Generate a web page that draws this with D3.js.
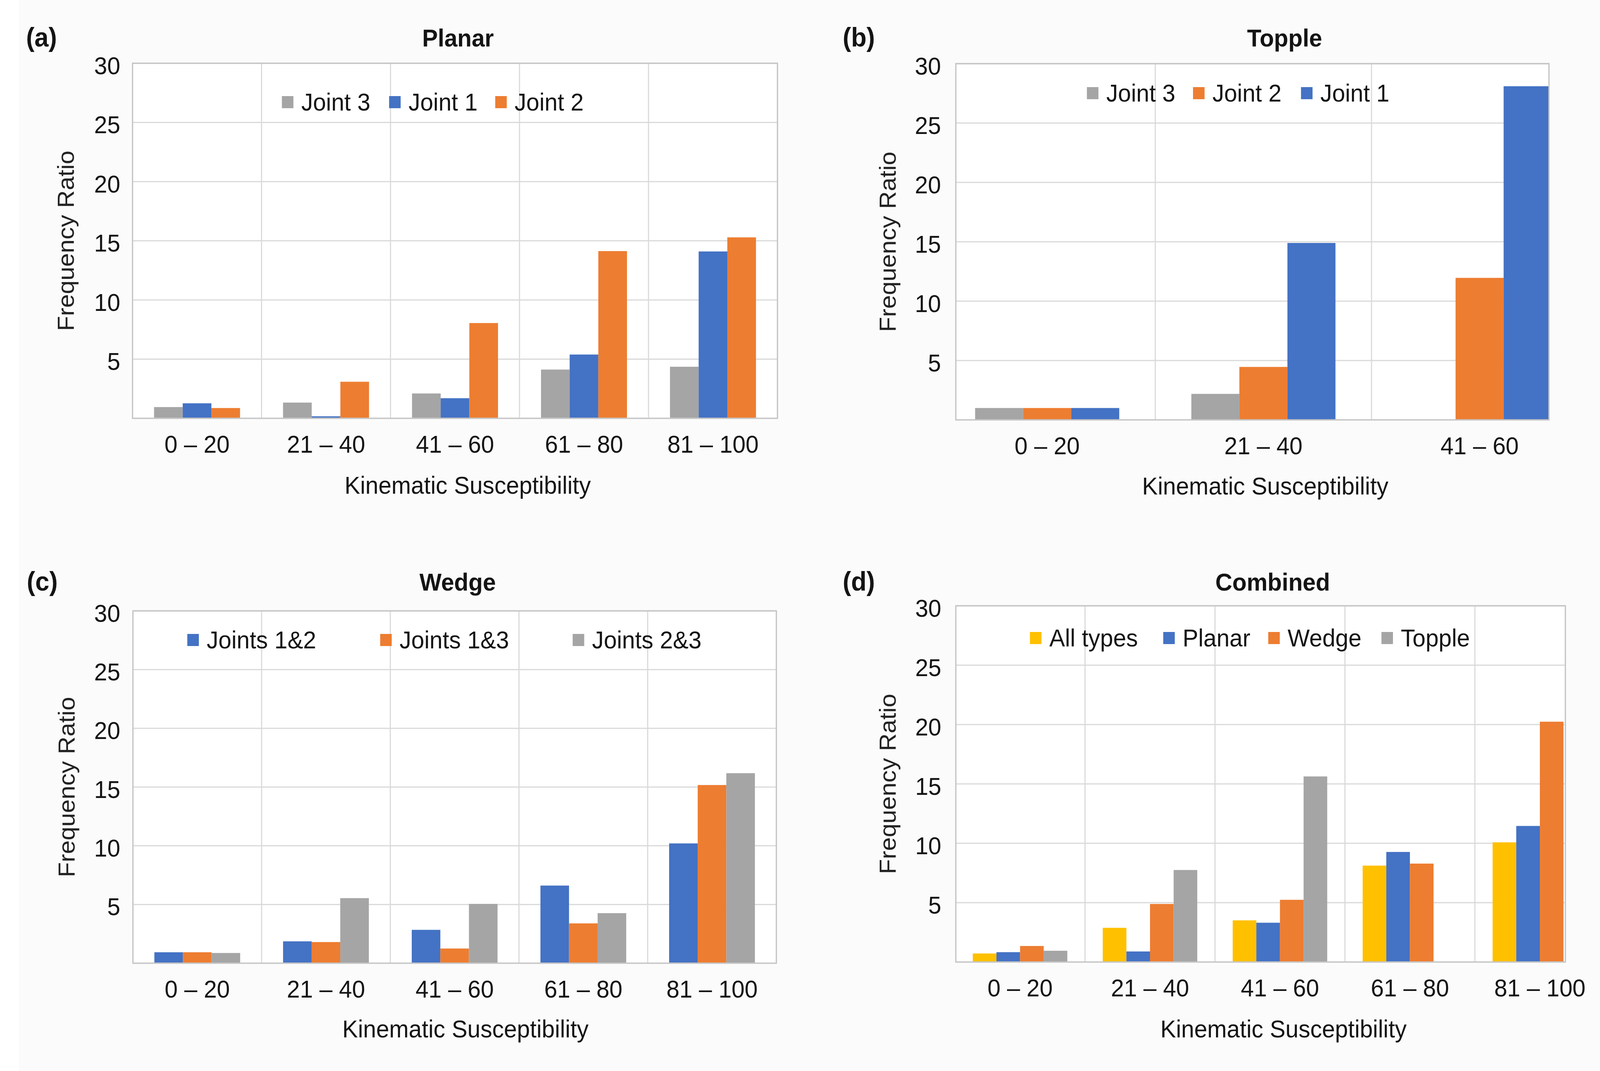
<!DOCTYPE html>
<html>
<head>
<meta charset="utf-8">
<script src="https://cdn.jsdelivr.net/npm/d3@7/dist/d3.min.js"></script>
<style>
  html, body { margin: 0; padding: 0; background: #ffffff; overflow: hidden; }
  #figure svg { display: block; width: 100vw; height: 100vh; }
  svg text { font-family: "Liberation Sans", Arial, sans-serif; fill: #141414; }
</style>
</head>
<body>
<div id="figure"></div>
<script>

// Kinematic susceptibility classes (x axis)
var ksBins = ["0 – 20", "21 – 40", "41 – 60", "61 – 80", "81 – 100"];
var ksBinsTopple = ["0 – 20", "21 – 40", "41 – 60"];

// y axis tick labels (no 0 label in the original)
var yTicks = [5, 10, 15, 20, 25, 30];

// (a) Planar
var planarSeries = ["Joint 3", "Joint 1", "Joint 2"];
var planarJoint3 = [0.95, 1.33, 2.1, 4.12, 4.36];
var planarJoint1 = [1.27, 0.17, 1.7, 5.39, 14.1];
var planarJoint2 = [0.87, 3.09, 8.05, 14.13, 15.29];

// (b) Topple
var toppleSeries = ["Joint 3", "Joint 2", "Joint 1"];
var toppleJoint3 = [1.0, 2.19, null];
var toppleJoint2 = [1.0, 4.46, 11.96];
var toppleJoint1 = [1.0, 14.9, 28.1];

// (c) Wedge
var wedgeSeries = ["Joints 1&2", "Joints 1&3", "Joints 2&3"];
var wedgeJ12 = [0.93, 1.86, 2.84, 6.61, 10.2];
var wedgeJ13 = [0.93, 1.8, 1.25, 3.39, 15.17];
var wedgeJ23 = [0.87, 5.54, 5.05, 4.26, 16.18];

// (d) Combined
var combinedSeries = ["All types", "Planar", "Wedge", "Topple"];
var combinedAll = [0.72, 2.88, 3.51, 8.12, 10.08];
var combinedPlanar = [0.83, 0.89, 3.31, 9.27, 11.46];
var combinedWedge = [1.35, 4.89, 5.24, 8.29, 20.24];
var combinedTopple = [0.95, 7.75, 15.63, null, null];

var colors = {
  blue: "#4472C4",
  orange: "#ED7D31",
  gray: "#A5A5A5",
  yellow: "#FFC000"
};

var svgWidth = 4297;
var svgHeight = 2742;

// drawn in a fixed 4297x2742 coordinate space, scaled to the window
var svg = d3.select("#figure")
  .append("svg")
  .attr("viewBox", `0 0 ${svgWidth} ${svgHeight}`)
  .attr("preserveAspectRatio", "none");

// faint off-white page like the scan
svg.append("rect")
  .attr("x", 0).attr("y", 0)
  .attr("width", svgWidth).attr("height", svgHeight)
  .attr("fill", "#ffffff");
svg.append("rect")
  .attr("x", 50).attr("y", 0)
  .attr("width", svgWidth - 50).attr("height", svgHeight)
  .attr("fill", "#fbfbfb");

// panel definitions: data come from the arrays above, layout lives here
var panels = [
  {
    id: "a", letter: "(a)", title: "Planar",
    cats: ksBins, series: planarSeries,
    values: [planarJoint3, planarJoint1, planarJoint2],
    colors: [colors.gray, colors.blue, colors.orange],
    left: 356, right: 2088, top: 162, bottom: 1071, band: [356, 2088],
    tickGap: 33, letterX: 70, base: 119, titleX: 1230,
    yTitleX: 198, xTitleX: 1256, xTitleY: 1264,
    legendY: 261, legendX: [757, 1045, 1330]
  },
  {
    id: "b", letter: "(b)", title: "Topple",
    cats: ksBinsTopple, series: toppleSeries,
    values: [toppleJoint3, toppleJoint2, toppleJoint1],
    colors: [colors.gray, colors.orange, colors.blue],
    left: 2567, right: 4160, top: 163, bottom: 1075, band: [2522, 4264],
    tickGap: 40, letterX: 2263, base: 119, titleX: 3450,
    yTitleX: 2405, xTitleX: 3398, xTitleY: 1266,
    legendY: 238, legendX: [2919, 3204, 3494]
  },
  {
    id: "c", letter: "(c)", title: "Wedge",
    cats: ksBins, series: wedgeSeries,
    values: [wedgeJ12, wedgeJ13, wedgeJ23],
    colors: [colors.blue, colors.orange, colors.gray],
    left: 357, right: 2085, top: 1564, bottom: 2466, band: [357, 2085],
    tickGap: 34, letterX: 72, base: 1512, titleX: 1229,
    yTitleX: 200, xTitleX: 1250, xTitleY: 2656,
    legendY: 1638, legendX: [503, 1021, 1538]
  },
  {
    id: "d", letter: "(d)", title: "Combined",
    cats: ksBins, series: combinedSeries,
    values: [combinedAll, combinedPlanar, combinedWedge, combinedTopple],
    colors: [colors.yellow, colors.blue, colors.orange, colors.gray],
    left: 2567, right: 4204, top: 1551, bottom: 2463, band: [2565, 4310],
    tickGap: 39, letterX: 2263, base: 1512, titleX: 3418,
    yTitleX: 2405, xTitleX: 3447, xTitleY: 2656,
    legendY: 1633, legendX: [2766, 3124, 3406, 3710]
  }
];

function drawPanel(p) {

  var g = svg.append("g").attr("class", "panel-" + p.id);
  var plotW = p.right - p.left;
  var plotH = p.bottom - p.top;

  // scales
  var yScale = d3.scaleLinear()
    .domain([0, 30])
    .range([p.bottom, p.top]);

  var xScale = d3.scaleBand()
    .domain(p.cats)
    .range(p.band)
    .paddingInner(0)
    .paddingOuter(0);

  // Excel style: gap between groups = 1.5 bar widths
  var barW = xScale.bandwidth() / (p.series.length + 1.5);
  var xSub = d3.scaleBand()
    .domain(p.series)
    .range([0.75 * barW, xScale.bandwidth() - 0.75 * barW]);

  // clip to the plot area (b and d are cut at the edges in the original)
  g.append("clipPath")
    .attr("id", "clip-" + p.id)
    .append("rect")
    .attr("x", p.left).attr("y", p.top - 2)
    .attr("width", plotW).attr("height", plotH + 2);

  g.append("rect")
    .attr("x", p.left).attr("y", p.top)
    .attr("width", plotW).attr("height", plotH)
    .attr("fill", "#ffffff");

  var grid = g.append("g").attr("clip-path", "url(#clip-" + p.id + ")");

  // horizontal gridlines
  grid.selectAll("line.h")
    .data(yTicks)
    .enter()
    .append("line")
    .attr("x1", p.left).attr("x2", p.right)
    .attr("y1", d => yScale(d)).attr("y2", d => yScale(d))
    .attr("stroke", "#d9d9d9")
    .attr("stroke-width", 3);

  // vertical gridlines between categories
  grid.selectAll("line.v")
    .data(p.cats.slice(1))
    .enter()
    .append("line")
    .attr("x1", d => xScale(d)).attr("x2", d => xScale(d))
    .attr("y1", p.top).attr("y2", p.bottom)
    .attr("stroke", "#d9d9d9")
    .attr("stroke-width", 3);

  // bars
  var rows = [];
  p.series.forEach(function(s, si) {
    p.values[si].forEach(function(v, ci) {
      if (v !== null) {
        rows.push({ series: s, cat: p.cats[ci], value: v, color: p.colors[si] });
      }
    });
  });

  grid.selectAll("rect.bar")
    .data(rows)
    .enter()
    .append("rect")
    .attr("class", "bar")
    .attr("x", d => xScale(d.cat) + xSub(d.series))
    .attr("width", xSub.bandwidth())
    .attr("y", d => yScale(d.value))
    .attr("height", d => p.bottom - yScale(d.value))
    .attr("fill", d => d.color);

  // plot border
  g.append("rect")
    .attr("x", p.left).attr("y", p.top)
    .attr("width", plotW).attr("height", plotH)
    .attr("fill", "none")
    .attr("stroke", "#c6c6c6")
    .attr("stroke-width", 3.5);

  // y axis labels
  var leftAxis = d3.axisLeft(yScale)
    .tickValues(yTicks)
    .tickSize(0)
    .tickPadding(p.tickGap);

  var yAxis = g.append("g")
    .attr("transform", `translate(${p.left}, 0)`)
    .call(leftAxis);
  yAxis.select(".domain").remove();
  yAxis.selectAll("text")
    .attr("y", 7)
    .style("font-family", "'Liberation Sans', Arial, sans-serif")
    .style("font-size", "63px")
    .style("fill", "#141414");

  // x axis labels
  var bottomAxis = d3.axisBottom(xScale)
    .tickSize(0)
    .tickPadding(43);

  var xAxis = g.append("g")
    .attr("transform", `translate(0, ${p.bottom})`)
    .call(bottomAxis);
  xAxis.select(".domain").remove();
  xAxis.selectAll("text")
    .style("font-family", "'Liberation Sans', Arial, sans-serif")
    .style("font-size", "63px")
    .style("fill", "#141414");

  // axis titles
  g.append("text")
    .attr("x", p.xTitleX)
    .attr("y", p.xTitleY)
    .attr("text-anchor", "middle")
    .style("font-size", "63px")
    .text("Kinematic Susceptibility");

  g.append("text")
    .attr("transform", `translate(${p.yTitleX}, ${(p.top + p.bottom) / 2}) rotate(-90)`)
    .attr("text-anchor", "middle")
    .style("font-size", "63px")
    .style("fill", "#222")
    .text("Frequency Ratio");

  // panel letter and title
  g.append("text")
    .attr("x", p.letterX)
    .attr("y", p.base)
    .style("font-size", "68px")
    .style("font-weight", "bold")
    .text(p.letter);

  g.append("text")
    .attr("x", p.titleX)
    .attr("y", p.base)
    .attr("text-anchor", "middle")
    .style("font-size", "63px")
    .style("font-weight", "bold")
    .text(p.title);

  // legend
  var legend = g.append("g");
  p.series.forEach(function(s, i) {
    legend.append("rect")
      .attr("x", p.legendX[i])
      .attr("y", p.legendY - 15)
      .attr("width", 31)
      .attr("height", 31)
      .attr("fill", p.colors[i]);
    legend.append("text")
      .attr("x", p.legendX[i] + 52)
      .attr("y", p.legendY + 22)
      .style("font-size", "63px")
      .text(s);
  });
}

panels.forEach(drawPanel);

</script>
</body>
</html>
